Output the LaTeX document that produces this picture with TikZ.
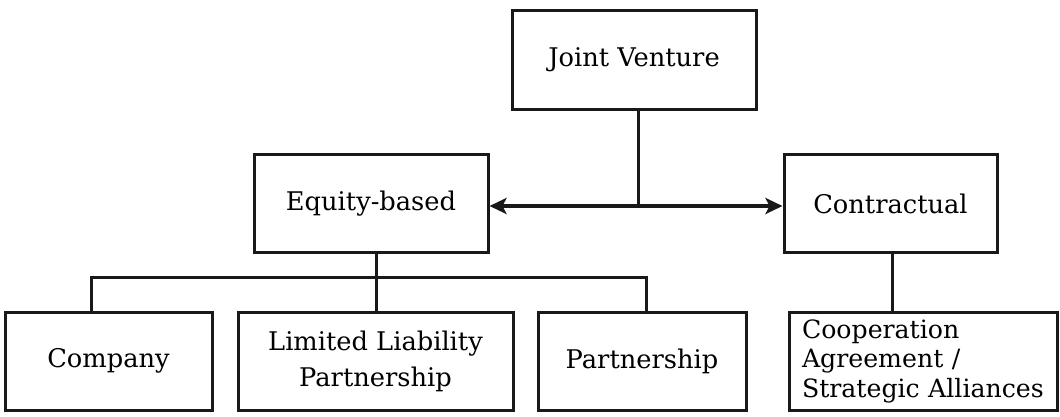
\documentclass[tikz,border=0pt]{standalone}
\usepackage{fontspec}
\setmainfont{DejaVu Serif}
\usetikzlibrary{arrows.meta}
\tikzset{
  box/.style={draw=black!90, line width=3pt, rectangle, inner sep=0pt, minimum height=98pt, align=center,
    font=\fontsize{25.7}{30}\selectfont},
  conn/.style={draw=black!90, line width=3pt},
  biarrow/.style={draw=black!90, line width=4pt, -{Stealth[length=17pt,width=16pt,inset=4pt]}},
}
\begin{document}
\begin{tikzpicture}[x=1pt,y=-1pt]
\useasboundingbox[fill=white] (0,0) rectangle (1060,416);
\node[box, minimum width=244pt, minimum height=99pt] (jv) at (634,59.5) {Joint Venture};
\node[box, minimum width=234pt] (eq) at (371,203.5) {Equity-based};
\node[box, minimum width=213pt] (ct) at (890.5,203.5) {Contractual};
\node[box, minimum width=207pt] (co) at (108.5,361) {Company};
\node[box, minimum width=275pt, font=\fontsize{25.7}{36}\selectfont] (llp) at (375.5,361) {Limited Liability\\Partnership};
\node[box, minimum width=268pt, text width=242pt, align=left, font=\fontsize{25.2}{29.5}\selectfont] (ca) at (923,361) {Cooperation\\Agreement /\\Strategic Alliances};
\node[box, minimum width=208pt] (pa) at (642,361) {Partnership};
% joint venture split
\coordinate (j) at (638,206);
\draw[conn] (jv.south -| j) -- (j);
\draw[biarrow] (j) -- (j -| eq.east);
\draw[biarrow] (j) -- (j -| ct.west);
% equity branches
\coordinate (e) at (376,277);
\coordinate (hl) at (91,277);
\coordinate (hr) at (646,277);
\draw[conn] (eq.south -| e) -- (e);
\draw[conn] (co.north -| hl) -- (hl) -- (hr) -- (pa.north -| hr);
\draw[conn] (e) -- (llp.north -| e);
% contractual
\coordinate (c) at (892,300);
\draw[conn] (ct.south -| c) -- (ca.north -| c);
\end{tikzpicture}
\end{document}
